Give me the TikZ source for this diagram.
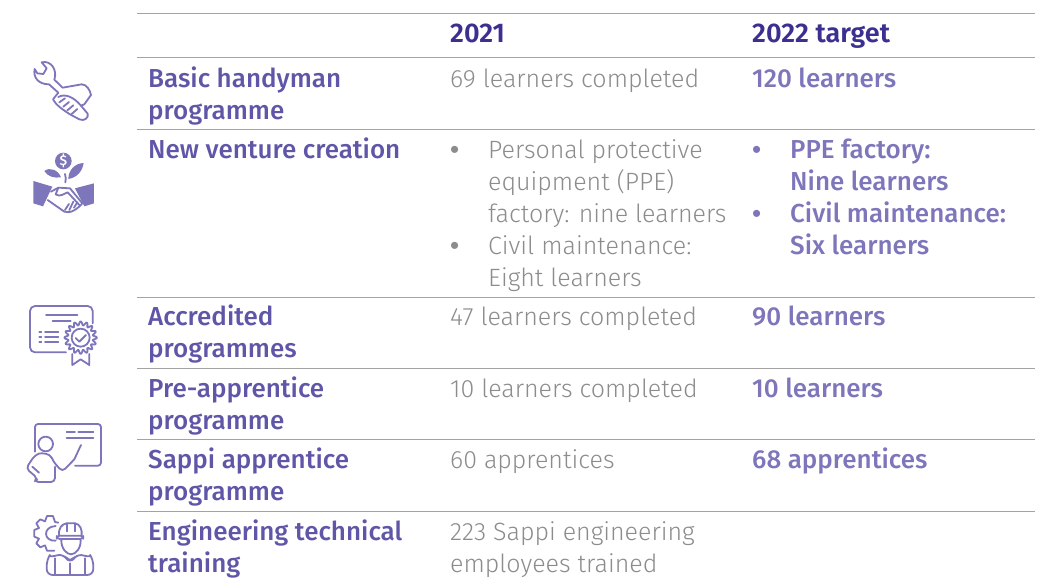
\documentclass[tikz,border=0pt]{standalone}
\usepackage{fontspec}
\setmainfont{Fira Sans}
\newfontfamily\lightf{Fira Sans Light}
\newfontfamily\medf{Fira Sans Medium}
\newfontfamily\semif{Fira Sans SemiBold}
\newfontfamily\bulf{Liberation Sans}
\definecolor{rulec}{HTML}{A3A3A3}
\definecolor{headc}{HTML}{3B2F8F}
\definecolor{purp}{HTML}{5F56A8}
\definecolor{purl}{HTML}{7D76BB}
\definecolor{greyt}{HTML}{8C8C8C}
\tikzset{
 rowrule/.style={draw=rulec,line width=1pt},
 txt/.style={inner sep=0pt,anchor=base west,align=left},
 headt/.style={txt,text=headc,font=\fontsize{27}{32}\selectfont\semif},
 namet/.style={txt,text=purp,font=\fontsize{26}{32}\selectfont\medf},
 valt/.style={txt,text=greyt,font=\fontsize{25}{32}\selectfont\lightf},
 bult/.style={txt,text=purl,font=\fontsize{26}{32}\selectfont\medf},
 gdot/.style={txt,text=greyt,font=\fontsize{26}{32}\selectfont\bulf},
 pdot/.style={txt,text=purl,font=\fontsize{26}{32}\selectfont\bulf},
 ic/.style={draw=purl,line width=1.8pt,line join=round,line cap=round,fill=none},
 third/.style={x=.3333pt,y=-.3333pt},
}
\begin{document}
\begin{tikzpicture}[x=1pt,y=-1pt]
\useasboundingbox[fill=white] (0,0) rectangle (1048,581);
% rules
\foreach \yy/\nm in {13/a,57/b,129/c,297/d,368/e,439/f,511/g}{
 \coordinate (l\nm) at (137,\yy); \coordinate (r\nm) at (1035,\yy);
 \draw[rowrule] (l\nm) -- (r\nm);
}
% header
\node[headt] (h1) at (450,42) {2021};
\node[headt] (h2) at (752,42) {2022 target};
% names (a multi-line node is placed by the baseline of its last line)
\node[namet] (n1) at (148,119) {Basic handyman\\programme};
\node[namet] (n2) at (148,158) {New venture creation};
\node[namet] (n3) at (148,357) {Accredited\\programmes};
\node[namet] (n4) at (148,429) {Pre-apprentice\\programme};
\node[namet] (n5) at (148,500) {Sappi apprentice\\programme};
\node[namet] (n6) at (148,572) {Engineering technical\\training};
% 2021
\node[valt] (v1) at (450,87) {69 learners completed};
\node[gdot] (v2a) at (450,158) {•};
\node[valt] (v2b) at (488,222) {Personal protective\\equipment (PPE)\\factory: nine learners};
\node[gdot] (v2c) at (450,254) {•};
\node[valt] (v2d) at (488,286) {Civil maintenance:\\Eight learners};
\node[valt] (v3) at (450,325) {47 learners completed};
\node[valt] (v4) at (450,397) {10 learners completed};
\node[valt] (v5) at (450,468) {60 apprentices};
\node[valt] (v6) at (450,572) {223 Sappi engineering\\employees trained};
% 2022
\node[bult] (t1) at (752,87) {120 learners};
\node[pdot] (t2a) at (752,158) {•};
\node[bult] (t2b) at (790,190) {PPE factory:\\Nine learners};
\node[pdot] (t2c) at (752,222) {•};
\node[bult] (t2d) at (790,254) {Civil maintenance:\\Six learners};
\node[bult] (t3) at (752,325) {90 learners};
\node[bult] (t4) at (752,397) {10 learners};
\node[bult] (t5) at (752,468) {68 apprentices};
% wrench icon
\begin{scope}[shift={(25pt,-55pt)},third]
\draw[ic] (50,22) -- (65,40) -- (55,57) -- (37,55) -- (29,42) .. controls (24,65) and (38,88) .. (72,88) -- (100,113) -- (84,133) .. controls (92,150) and (115,165) .. (135,178) -- (163,193) .. controls (178,200) and (192,188) .. (188,176) -- (168,152) -- (178,148) -- (198,120) .. controls (195,105) and (185,88) .. (170,88) -- (113,98) -- (88,74) .. controls (98,45) and (78,15) .. (50,22) -- cycle;
\draw[ic] (100,126) .. controls (120,115) and (145,125) .. (168,152);
\draw[ic] (103,142) -- (120,130) (115,155) -- (132,141) (127,166) -- (145,151) (140,177) -- (157,162);
\end{scope}
% handshake icon
\begin{scope}[shift={(25pt,-145pt)},third]
\fill[purl] (115,48) circle (25);
\node[inner sep=0pt,text=white,font=\fontsize{14}{14}\selectfont\medf] (dollar) at (115,48) {\$};
\fill[purl] (58,78) .. controls (75,65) and (100,75) .. (108,97) .. controls (88,100) and (68,95) .. (58,78) -- cycle;
\fill[purl] (176,54) .. controls (150,55) and (130,75) .. (130,102) .. controls (155,98) and (172,80) .. (176,54) -- cycle;
\draw[ic] (120,87) .. controls (125,95) and (121,105) .. (121,112);
\fill[purl] (25,108) -- (82,125) -- (54,184) -- (25,175) -- cycle;
\fill[purl] (207,115) -- (150,130) -- (178,184) -- (207,175) -- cycle;
\draw[ic] (68,165) -- (118,200) .. controls (135,208) and (160,190) .. (172,175) -- (135,130) -- (100,128) -- (92,148) .. controls (105,158) and (118,145) .. (128,142) -- (165,182);
\draw[ic] (78,140) -- (100,128);
\draw[ic] (120,195) -- (132,177) (133,195) -- (145,170) (147,188) -- (157,172);
\end{scope}
% certificate icon
\begin{scope}[shift={(0pt,-290pt)},third]
\draw[ic,rounded corners=5pt] (198,187) -- (90,187) -- (90,48) -- (278,48) -- (278,100);
\draw[ic] (138,75) -- (232,75) (158,92) -- (212,92);
\draw[ic] (118,125) -- (124,125) (135,125) -- (175,125) (118,141) -- (124,141) (135,141) -- (175,141) (118,157) -- (124,157) (135,157) -- (175,157);
\draw[ic,shift={(242,143)}] plot[domain=0:360,samples=129,smooth] (\x:{43+6*cos(16*\x)}) -- cycle;
\draw[ic] (242,143) circle (27);
\draw[ic] (227,144) -- (238,155) -- (258,135);
\draw[ic] (217,192) -- (217,225) -- (242,208) -- (268,225) -- (268,192);
\end{scope}
% teacher icon
\begin{scope}[shift={(25pt,-420pt)},third]
\draw[ic,rounded corners=3pt] (30,95) -- (30,12) -- (228,12) -- (228,137) -- (150,137);
\draw[ic] (125,35) -- (150,35) (160,35) -- (205,35) (125,54) -- (205,54);
\draw[ic] (62,72) circle (22);
\draw[ic] (168,75) -- (148,118);
\draw[ic,rounded corners=4pt] (148,118) -- (112,155) -- (85,125) .. controls (75,100) and (50,98) .. (30,105) -- (3,145) -- (38,175) -- (28,186) -- (90,186) -- (90,140);
\draw[ic] (22,140) -- (42,158);
\end{scope}
% engineer icon
\begin{scope}[shift={(25pt,-510pt)},third]
\draw[ic,line join=round] (100,38) -- (90,36) -- (84,18) -- (66,18) -- (60,34) -- (46,28) -- (34,40) -- (42,54) -- (28,60) -- (28,80) -- (42,86) -- (34,100) -- (46,112) -- (60,106) -- (66,122) -- (88,122);
\draw[ic] (92,48) .. controls (52,50) and (55,95) .. (92,92);
\draw[ic,rounded corners=3pt] (95,77) -- (175,77) -- (175,87) -- (95,87) -- cycle;
\draw[ic] (102,77) .. controls (100,55) and (110,42) .. (125,40) -- (150,40) .. controls (165,42) and (172,58) .. (170,77);
\draw[ic] (125,40) -- (125,64) (150,40) -- (150,64);
\draw[ic] (109,90) .. controls (108,115) and (125,133) .. (138,133) .. controls (152,133) and (168,115) .. (167,90);
\draw[ic,rounded corners=6pt] (65,195) -- (65,150) .. controls (70,142) and (90,138) .. (112,130) -- (135,160) -- (160,130) .. controls (180,138) and (200,142) .. (205,150) -- (205,195) -- cycle;
\draw[ic] (90,145) -- (90,195) (180,145) -- (180,195) (135,160) -- (135,195);
\draw[ic] (120,140) -- (135,150) -- (152,140);
\end{scope}
\end{tikzpicture}
\end{document}
